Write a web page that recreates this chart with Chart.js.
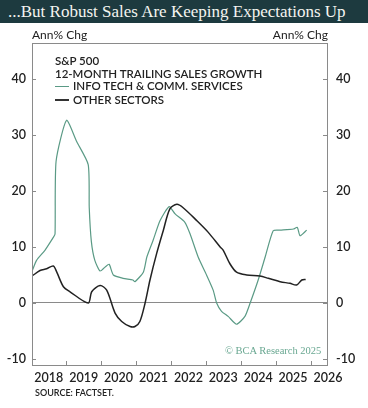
<!DOCTYPE html>
<html>
<head>
<meta charset="utf-8">
<script src="https://cdn.jsdelivr.net/npm/chart.js@4/dist/chart.umd.min.js"></script>
<style>
  body { margin: 0; background: #fff; }
  #wrap { position: relative; width: 368px; height: 408px; overflow: hidden; font-family: Lato, "Open Sans", sans-serif; }
  #chart { position: absolute; left: 0; top: 0; }
  .title { position: absolute; left: 0; top: 0; width: 368px; height: 23px; background: #1d3a3f;
    color: #f4f4f0; font-family: "Liberation Serif", "DejaVu Serif", serif; font-size: 17px; line-height: 23px; padding-left: 8px; box-sizing: border-box; white-space: nowrap; }
  .unit { position: absolute; top: 27px; font-size: 12px; color: #222; }
  .legend { position: absolute; left: 55px; font-size: 11.5px; color: #222; font-weight: 600; white-space: nowrap; }
  .swatch { display: inline-block; width: 14px; height: 0; vertical-align: middle; margin-right: 4px; margin-top: -2px; }
  .source { position: absolute; left: 35px; top: 387px; font-size: 9px; color: #222; font-weight: 600; }
  .copy { position: absolute; left: 225px; top: 345px; font-family: "Liberation Serif", serif; font-size: 10.5px; color: #6aa892; }
</style>
</head>
<body>
<div id="wrap">
  <canvas id="chart" width="368" height="408"></canvas>
  <div class="title">...But Robust Sales Are Keeping Expectations Up</div>
  <div class="unit" style="left:32px">Ann% Chg</div>
  <div class="unit" style="right:40px">Ann% Chg</div>
  <div class="legend" style="top:54px">S&amp;P 500</div>
  <div class="legend" style="top:67px">12-MONTH TRAILING SALES GROWTH</div>
  <div class="legend" style="top:79px"><span class="swatch" style="border-top:1.3px solid #5a9a85"></span>INFO TECH &amp; COMM. SERVICES</div>
  <div class="legend" style="top:93px"><span class="swatch" style="border-top:2px solid #333"></span>OTHER SECTORS</div>
  <div class="copy">© BCA Research 2025</div>
  <div class="source">SOURCE: FACTSET.</div>
</div>
<script>
const yearLabels = [2018, 2019, 2020, 2021, 2022, 2023, 2024, 2025, 2026];
const yTicks = [-10, 0, 10, 20, 30, 40];

// Info tech & comm. services (decimal year, annual % change)
const techYears = [2017.53, 2017.65, 2017.89, 2018.13, 2018.18, 2018.21, 2018.51, 2018.80, 2019.13,
  2019.16, 2019.22, 2019.32, 2019.47, 2019.61, 2019.73, 2019.85, 2020.13, 2020.41, 2020.47,
  2020.71, 2020.81, 2020.99, 2021.19, 2021.45, 2021.62, 2021.90, 2022.05, 2022.28, 2022.52,
  2022.71, 2022.81, 2022.95, 2023.14, 2023.38, 2023.62, 2023.77, 2024.00, 2024.20, 2024.43,
  2024.63, 2025.01, 2025.12, 2025.20, 2025.39];
const techValues = [5.8, 7.6, 9.4, 11.7, 12.3, 25.3, 32.6, 28.8, 24.7,
  17.0, 11.0, 7.6, 5.7, 6.4, 6.9, 5.0, 4.4, 4.1, 3.8,
  5.5, 8.2, 11.2, 14.7, 17.2, 15.9, 14.4, 12.3, 8.2, 5.0,
  2.3, 0.0, -1.5, -2.4, -3.8, -2.4, 0.0, 4.1, 8.2, 12.9,
  13.0, 13.2, 13.5, 12.0, 13.0];

// Other sectors
const otherYears = [2017.52, 2017.75, 2017.94, 2018.13, 2018.23, 2018.42, 2018.61, 2019.13,
  2019.23, 2019.47, 2019.66, 2019.90, 2020.09, 2020.33, 2020.47, 2020.61, 2020.76, 2020.90,
  2021.09, 2021.28, 2021.47, 2021.67, 2021.85, 2022.24, 2022.57, 2022.91, 2023.00, 2023.19,
  2023.38, 2023.67, 2024.05, 2024.29, 2024.63, 2024.91, 2025.10, 2025.25, 2025.36];
const otherValues = [4.8, 5.8, 6.1, 6.6, 5.5, 2.9, 2.0, 0.0,
  2.0, 3.1, 2.3, -1.8, -3.3, -4.2, -4.2, -3.3, 0.0, 4.1,
  8.8, 12.9, 16.8, 17.6, 17.0, 14.7, 12.6, 10.0, 9.4, 7.0,
  5.5, 5.0, 4.8, 4.4, 3.8, 3.5, 3.2, 4.1, 4.2];

const axisGray = '#8a8a8a';

// frame + inward tick marks
const framePlugin = {
  id: 'frame',
  afterDraw(chart) {
    const { ctx, chartArea: a, scales } = chart;
    ctx.save();
    ctx.strokeStyle = axisGray;
    ctx.lineWidth = 1;
    ctx.strokeRect(a.left + 0.5, a.top + 0.5, a.right - a.left - 1, a.bottom - a.top - 1);
    ctx.beginPath();
    yTicks.forEach(v => {
      const y = Math.round(scales.y.getPixelForValue(v)) + 0.5;
      ctx.moveTo(a.left, y); ctx.lineTo(a.left + 4, y);
      ctx.moveTo(a.right, y); ctx.lineTo(a.right - 5, y);
    });
    yearLabels.slice(0, -1).forEach(yr => {
      const x = Math.round(scales.x.getPixelForValue(yr + 0.5)) + 0.5;
      ctx.moveTo(x, a.bottom); ctx.lineTo(x, a.bottom - 5);
    });
    ctx.stroke();
    ctx.restore();
  }
};

const tickFont = { family: 'Lato, "Open Sans", sans-serif', size: 12.5, weight: '600' };

new Chart(document.getElementById('chart'), {
  type: 'line',
  data: {
    datasets: [
      {
        label: 'Other sectors',
        data: otherYears.map((x, i) => ({ x, y: otherValues[i] })),
        borderColor: '#222',
        borderWidth: 1.5,
        pointRadius: 0,
        tension: 0.3
      },
      {
        label: 'Info tech & comm. services',
        data: techYears.map((x, i) => ({ x, y: techValues[i] })),
        borderColor: '#5a9a85',
        borderWidth: 1.2,
        pointRadius: 0,
        tension: 0.2
      }
    ]
  },
  options: {
    responsive: false,
    animation: false,
    devicePixelRatio: 1,
    layout: { padding: { top: 43, left: 0, right: 0, bottom: 0 } },
    plugins: { legend: { display: false }, tooltip: { enabled: false } },
    scales: {
      x: {
        type: 'linear',
        min: 2017.52,
        max: 2026.0,
        afterBuildTicks: s => { s.ticks = yearLabels.map(v => ({ value: v })); },
        afterFit: s => { s.height = 42; },
        grid: { display: false, drawTicks: false },
        border: { display: false },
        ticks: { padding: 4, color: '#222', font: tickFont, maxRotation: 0, autoSkip: false, callback: v => String(v) }
      },
      y: {
        min: -11.25,
        max: 46.4,
        afterBuildTicks: s => { s.ticks = yTicks.map(v => ({ value: v })); },
        afterFit: s => { s.width = 32; },
        grid: { drawTicks: false, color: c => (c.tick && c.tick.value === 0 ? axisGray : 'transparent') },
        border: { display: false },
        ticks: { padding: 6, color: '#222', font: tickFont }
      },
      y2: {
        position: 'right',
        min: -11.25,
        max: 46.4,
        afterBuildTicks: s => { s.ticks = yTicks.map(v => ({ value: v })); },
        afterFit: s => { s.width = 40; },
        grid: { display: false, drawTicks: false },
        border: { display: false },
        ticks: { padding: 8, color: '#222', font: tickFont }
      }
    }
  },
  plugins: [framePlugin]
});
</script>
</body>
</html>
